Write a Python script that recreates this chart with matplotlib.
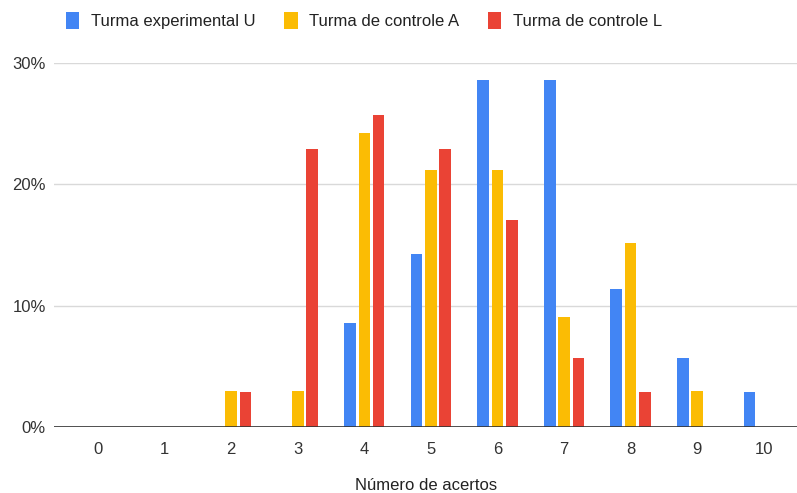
import matplotlib.pyplot as plt
import numpy as np

plt.rcParams['font.family'] = ['Liberation Sans', 'DejaVu Sans']

acertos = ['0', '1', '2', '3', '4', '5', '6', '7', '8', '9', '10']
turma_u = [0, 0, 0, 0, 8.6, 14.3, 28.6, 28.6, 11.4, 5.7, 2.9]
turma_a = [0, 0, 3.0, 3.0, 24.2, 21.2, 21.2, 9.1, 15.2, 3.0, 0]
turma_l = [0, 0, 2.9, 22.9, 25.7, 22.9, 17.1, 5.7, 2.9, 0, 0]

series = [
    ('Turma experimental U', turma_u, '#4285F4'),
    ('Turma de controle A', turma_a, '#FBBC04'),
    ('Turma de controle L', turma_l, '#EA4335'),
]

fig = plt.figure(figsize=(7.97, 4.93), dpi=100)
ax = fig.add_axes([0.068, 0.134, 0.932, 0.738])

x = np.arange(len(acertos))
width = 0.175
offsets = [-0.215, 0, 0.215]
for (name, vals, color), off in zip(series, offsets):
    ax.bar(x + off, vals, width, color=color, label=name, zorder=3)

ax.set_xlim(-0.66, 10.5)
ax.set_ylim(0, 30)
ax.set_yticks([0, 10, 20, 30])
ax.set_yticklabels(['0%', '10%', '20%', '30%'])
ax.set_xticks(x)
ax.set_xticklabels(acertos)
ax.grid(axis='y', color='#d9d9d9', linewidth=1, zorder=0)
ax.axhline(0, color='#333333', linewidth=1.2, zorder=4)
for s in ax.spines.values():
    s.set_visible(False)
ax.tick_params(length=0, labelsize=12, colors='#333333')
ax.tick_params(axis='x', pad=11)
ax.tick_params(axis='y', pad=6)

# x title sits right at the bottom edge, like the reference
fig.text(0.534, 0.0, 'Número de acertos', fontsize=12, color='#222222',
         ha='center', va='bottom')

fig.legend(loc='upper left', bbox_to_anchor=(0.064, 1.007), ncol=3, frameon=False,
           fontsize=12, handlelength=0.8, handleheight=1.2, handletextpad=0.7,
           columnspacing=1.72, labelcolor='#222222')

fig.savefig('out.png', dpi=100)
